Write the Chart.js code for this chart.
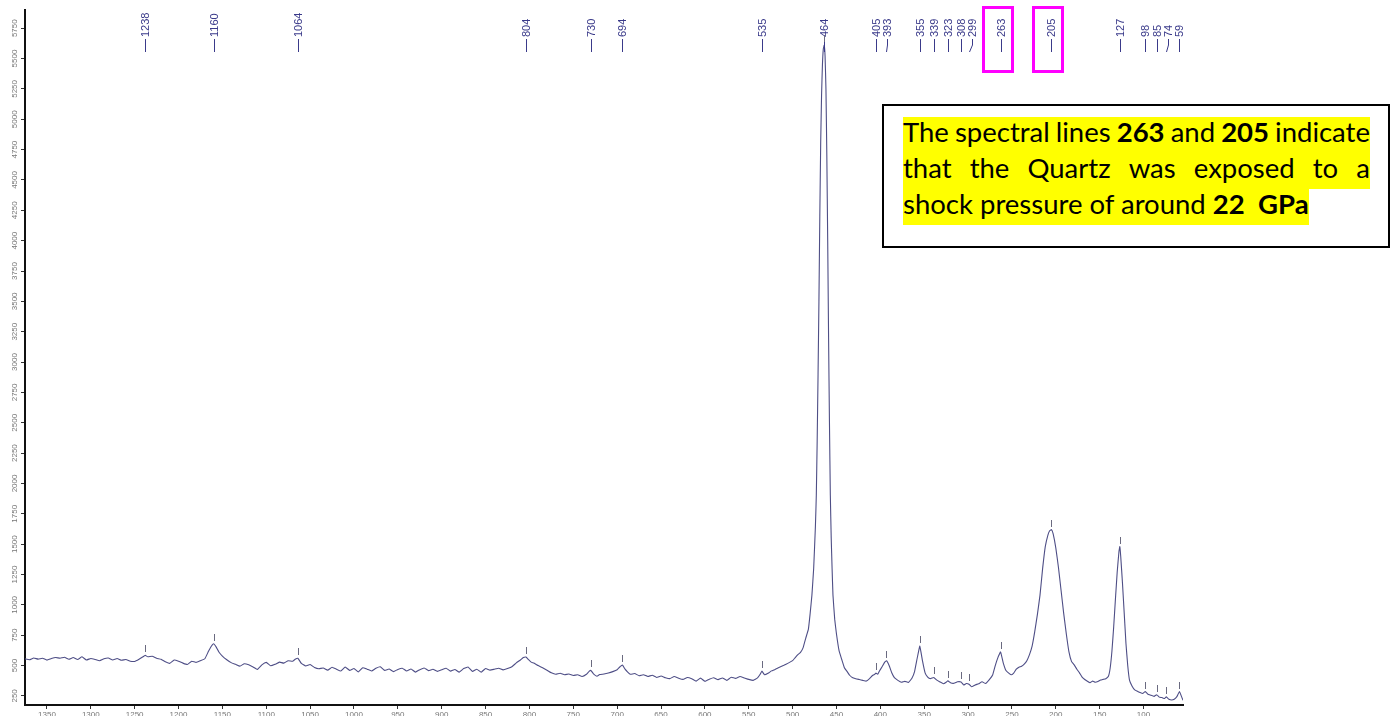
<!DOCTYPE html>
<html>
<head>
<meta charset="utf-8">
<title>Raman spectrum</title>
<script src="https://cdn.jsdelivr.net/npm/chart.js@4.4.1/dist/chart.umd.min.js"></script>
<style>
  body { margin: 0; background: #fff; }
  #wrap { position: relative; width: 1392px; height: 716px; overflow: hidden; }
  #note {
    position: absolute; left: 882px; top: 104px; width: 508px; height: 144px;
    box-sizing: border-box; border: 2px solid #000; background: #fff;
    padding: 11px 0 0 19px;
    font-family: Lato, "Open Sans", sans-serif; font-size: 27.5px; color: #000;
  }
  #note .ln { display: flex; justify-content: space-between; width: 467px; height: 36px; line-height: 36px; background: #ffff00; }
  #note .last { display: inline-block; height: 36px; line-height: 36px; background: #ffff00; white-space: pre; }
  #note span { position: relative; top: -3px; }
  #note b { font-weight: 700; }
</style>
</head>
<body>
<div id="wrap">
  <canvas id="spectrum" width="1392" height="716"></canvas>
  <div id="note">
    <div class="ln"><span>The</span><span>spectral</span><span>lines</span><span><b>263</b></span><span>and</span><span><b>205</b></span><span>indicate</span></div>
    <div class="ln"><span>that</span><span>the</span><span>Quartz</span><span>was</span><span>exposed</span><span>to</span><span>a</span></div>
    <div class="last"><span>shock pressure of around <b>22  GPa</b></span></div>
  </div>
</div>
<script>
// Raman shift (cm-1), high to low, and counts
const wavenumbers = [
  1375, 1370, 1365, 1360, 1355, 1350, 1345, 1340, 1335, 1330, 1325, 1320, 1315, 1310, 1305, 1300,
  1295, 1290, 1285, 1280, 1275, 1270, 1265, 1260, 1255, 1250, 1245, 1241, 1238, 1235, 1230, 1225,
  1220, 1215, 1210, 1205, 1200, 1195, 1190, 1185, 1180, 1175, 1170, 1166, 1163, 1160, 1157, 1154,
  1150, 1145, 1140, 1135, 1130, 1125, 1120, 1115, 1110, 1105, 1100, 1095, 1090, 1085, 1080, 1075,
  1070, 1067, 1064, 1060, 1055, 1050, 1045, 1040, 1035, 1030, 1025, 1020, 1015, 1010, 1005, 1000,
  995, 990, 985, 980, 975, 970, 965, 960, 955, 950, 945, 940, 935, 930, 925, 920,
  915, 910, 905, 900, 895, 890, 885, 880, 875, 870, 865, 860, 855, 850, 845, 840,
  835, 830, 825, 820, 815, 810, 807, 804, 801, 798, 795, 790, 785, 780, 775, 770,
  765, 760, 755, 750, 745, 740, 735, 732, 730, 727, 723, 720, 715, 710, 705, 700,
  697, 694, 691, 688, 685, 680, 675, 670, 665, 660, 655, 650, 645, 640, 635, 630,
  625, 620, 615, 610, 605, 600, 595, 590, 585, 580, 575, 570, 565, 560, 555, 550,
  545, 540, 537, 535, 532, 528, 524, 520, 515, 510, 505, 500, 497, 494, 491, 488,
  485, 482, 480, 478, 476, 474, 473, 472, 471, 470, 469, 468, 467, 466, 465, 464,
  463, 462, 461, 460, 459, 458, 457, 456, 455, 454, 452, 450, 447, 444, 441, 438,
  435, 432, 428, 424, 420, 416, 412, 409, 406, 405, 403, 401, 398, 395, 393, 390,
  387, 384, 380, 376, 372, 368, 364, 361, 358, 355, 352, 349, 346, 343, 339, 336,
  332, 328, 325, 323, 320, 316, 312, 308, 305, 302, 299, 296, 292, 288, 284, 280,
  276, 272, 269, 266, 263, 260, 257, 254, 251, 248, 245, 242, 239, 236, 233, 230,
  227, 224, 221, 218, 215, 212, 209, 207, 205, 203, 200, 197, 194, 191, 188, 185,
  182, 179, 176, 173, 170, 167, 164, 161, 158, 155, 152, 149, 146, 143, 140, 138,
  136, 134, 132, 130, 128, 127, 126, 124, 122, 120, 118, 116, 113, 110, 107, 104,
  101, 98, 95, 92, 88, 85, 82, 79, 76, 74, 71, 68, 65, 62, 59, 57,
  55
];
const intensity = [
  555, 548, 562, 553, 560, 545, 558, 566, 560, 568, 552, 566, 550, 572, 546, 558,
  550, 540, 556, 562, 546, 558, 543, 550, 536, 534, 552, 570, 584, 572, 576, 560,
  552, 532, 518, 545, 536, 520, 508, 536, 526, 540, 556, 615, 655, 680, 652, 612,
  578, 548, 524, 510, 495, 515, 506, 488, 468, 505, 526, 498, 510, 528, 520, 540,
  535, 552, 560, 518, 496, 508, 484, 474, 480, 462, 486, 470, 455, 488, 460, 476,
  448, 482, 470, 455, 478, 490, 460, 472, 450, 468, 478, 455, 472, 446, 466, 480,
  458, 470, 452, 465, 478, 454, 468, 446, 475, 488, 452, 470, 445, 476, 462, 470,
  478, 464, 475, 490, 522, 548, 566, 570, 548, 528, 520, 500, 482, 462, 440, 428,
  436, 424, 430, 418, 424, 410, 428, 452, 460, 432, 412, 426, 430, 438, 450, 466,
  488, 504, 470, 446, 428, 434, 416, 424, 410, 420, 402, 414, 400, 392, 410, 396,
  386, 402, 392, 372, 396, 370, 388, 400, 384, 398, 378, 404, 394, 410, 398, 386,
  378, 398, 428, 454, 424, 436, 456, 468, 486, 502, 520, 540, 566, 590, 608, 648,
  726, 800, 930, 1080, 1300, 1650, 1900, 2350, 2900, 3500, 4200, 4800, 5200, 5450, 5580, 5610,
  5520, 5250, 4700, 4000, 3200, 2500, 1900, 1550, 1300, 1080, 880, 760, 620, 550, 482, 452,
  420, 402, 392, 385, 378, 372, 395, 418, 430, 438, 428, 455, 490, 528, 540, 500,
  440, 400, 378, 362, 370, 360, 395, 450, 560, 660, 540, 440, 405, 392, 402, 382,
  365, 350, 362, 374, 358, 354, 366, 364, 340, 352, 346, 325, 340, 350, 366, 352,
  382, 422, 500, 565, 612, 524, 462, 440, 424, 438, 470, 486, 494, 512, 540, 590,
  660, 780, 920, 1080, 1300, 1480, 1575, 1610, 1620, 1585, 1470, 1310, 1120, 930, 760, 612,
  532, 505, 470, 440, 405, 385, 370, 358, 372, 362, 368, 380, 386, 392, 412, 480,
  620, 820, 1050, 1270, 1440, 1480, 1400, 1180, 930, 680, 500, 380, 330, 300, 288, 278,
  270, 286, 264, 256, 246, 260, 240, 236, 228, 242, 222, 216, 222, 244, 286, 250,
  214
];
const xTicks = [1350, 1300, 1250, 1200, 1150, 1100, 1050, 1000, 950, 900, 850, 800, 750, 700, 650, 600, 550, 500, 450, 400, 350, 300, 250, 200, 150, 100];
const yTicks = [250, 500, 750, 1000, 1250, 1500, 1750, 2000, 2250, 2500, 2750, 3000, 3250, 3500, 3750, 4000, 4250, 4500, 4750, 5000, 5250, 5500, 5750];
// picked peaks, labelled along the top
const peakPositions = [1238, 1160, 1064, 804, 730, 694, 535, 464, 405, 393, 355, 339, 323, 308, 299, 263, 205, 127, 98, 85, 74, 59];
const boxedPeaks = [263, 205];

const peakMarks = {
  id: 'peakMarks',
  afterDatasetsDraw(chart) {
    const { ctx, scales: { x, y } } = chart;
    ctx.save();
    ctx.lineWidth = 1;

    // spread labels that would overlap, leader lines bend back to the peak
    let prev = -Infinity;
    const slots = peakPositions.map(wn => {
      const px = Math.round(x.getPixelForValue(wn)) + 0.5;
      const lx = Math.max(px, prev + 11);
      prev = lx;
      return { wn, px, lx };
    });

    slots.forEach(({ wn, px, lx }) => {
      ctx.fillStyle = '#3a3a8a';
      ctx.strokeStyle = '#3a3a8a';
      ctx.save();
      ctx.translate(lx, 37);
      ctx.rotate(-Math.PI / 2);
      ctx.font = '11px "Liberation Sans", Arial, sans-serif';
      ctx.textAlign = 'left';
      ctx.textBaseline = 'middle';
      ctx.fillText(String(wn), 0, 0);
      ctx.restore();
      ctx.beginPath();
      ctx.moveTo(lx, 39);
      ctx.lineTo(lx, 45);
      ctx.lineTo(px, 52);
      ctx.stroke();

      // small tick just above the curve
      let best = 0;
      wavenumbers.forEach((w, i) => {
        if (Math.abs(w - wn) < Math.abs(wavenumbers[best] - wn)) best = i;
      });
      const py = Math.round(y.getPixelForValue(intensity[best]));
      ctx.strokeStyle = '#6a6a80';
      ctx.beginPath();
      ctx.moveTo(px, py - 10);
      ctx.lineTo(px, py - 3);
      ctx.stroke();
    });

    ctx.strokeStyle = '#ff00ff';
    ctx.lineWidth = 3;
    boxedPeaks.forEach(wn => {
      const px = Math.round(x.getPixelForValue(wn));
      ctx.strokeRect(px - 17.5, 7.5, 29, 64);
    });
    ctx.restore();
  }
};

const tickFont = { family: '"Liberation Sans", Arial, sans-serif', size: 8 };

new Chart(document.getElementById('spectrum'), {
  type: 'line',
  data: {
    datasets: [{
      data: wavenumbers.map((w, i) => ({ x: w, y: intensity[i] })),
      borderColor: '#4e4e86',
      borderWidth: 1.1,
      pointRadius: 0,
      tension: 0.1,
      fill: false
    }]
  },
  options: {
    responsive: false,
    animation: false,
    devicePixelRatio: 1,
    layout: { padding: { top: 10, right: 209, left: 0, bottom: 0 } },
    plugins: { legend: { display: false }, tooltip: { enabled: false } },
    scales: {
      x: {
        type: 'linear',
        reverse: true,
        min: 55,
        max: 1375,
        afterFit: s => { s.height = 11; },
        afterBuildTicks: s => { s.ticks = xTicks.map(v => ({ value: v })); },
        grid: { drawOnChartArea: false, tickLength: 4, color: '#333' },
        border: { color: '#111', width: 2 },
        ticks: { autoSkip: false, maxRotation: 0, padding: 1, color: '#777', font: tickFont, callback: v => String(v) }
      },
      y: {
        min: 175,
        max: 5900,
        afterFit: s => { s.width = 25; },
        afterBuildTicks: s => { s.ticks = yTicks.map(v => ({ value: v })); },
        grid: { drawOnChartArea: false, tickLength: 4, color: '#333' },
        border: { color: '#111', width: 2 },
        ticks: {
          autoSkip: false, minRotation: 90, maxRotation: 90, crossAlign: 'center', padding: -3,
          color: '#777', font: tickFont, callback: v => String(v)
        }
      }
    }
  },
  plugins: [peakMarks]
});
</script>
</body>
</html>
